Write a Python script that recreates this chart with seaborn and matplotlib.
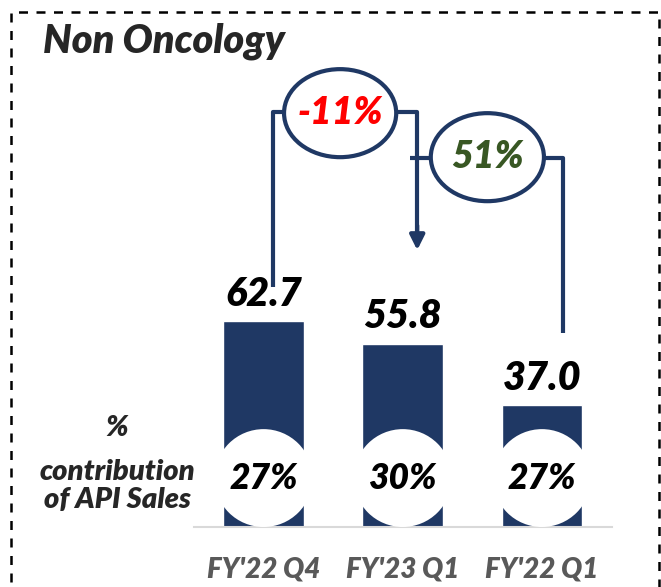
import matplotlib
matplotlib.use("Agg")
import matplotlib.pyplot as plt
import seaborn as sns
from matplotlib import font_manager as fm
from matplotlib.patches import Ellipse, Rectangle

# Data
quarters = ["FY'22 Q4", "FY'23 Q1", "FY'22 Q1"]
sales = [62.7, 55.8, 37.0]
api_share = ["27%", "30%", "27%"]
growth_labels = ["-11%", "51%"]
growth_colors = ["#FF0000", "#385723"]

navy = "#1F3864"
W, H = 661, 587

sns.set_theme(style="white")
plt.rcParams['font.family'] = ['Lato', 'DejaVu Sans']

# pick the heavy italic face by file, name matching alone picked a lighter one
font_path = fm.findfont(fm.FontProperties(family="Lato", style="italic", weight=800))


def fp(size):
    return fm.FontProperties(fname=font_path, size=size)


fig = plt.figure(figsize=(W / 100, H / 100), dpi=100)

# axes placed so the baseline sits at y=527px, bars span 194..612px
ax = fig.add_axes([194 / W, (H - 527) / H, (611.5 - 194) / W, (527 - 12) / H])
ax.patch.set_alpha(0)

sns.barplot(x=quarters, y=sales, order=quarters, color=navy, saturation=1,
            width=0.58, ax=ax, zorder=2)
ax.set_xlim(-0.5, 2.5)
ax.set_ylim(0, 156.8)
for s in ["left", "right", "top"]:
    ax.spines[s].set_visible(False)
ax.spines["bottom"].set_color("#D9D9D9")
ax.spines["bottom"].set_linewidth(1.5)
ax.set_yticks([])
ax.set_xlabel("")
ax.set_ylabel("")
ax.tick_params(axis="x", length=0, pad=21)
for lab in ax.get_xticklabels():
    lab.set_fontproperties(fp(20))
    lab.set_color("#595959")

# value labels and white circles with API share
for i, (v, p) in enumerate(zip(sales, api_share)):
    ax.annotate(f"{v:.1f}", (i, v), xytext=(0, 6), textcoords="offset points",
                ha="center", va="bottom", fontproperties=fp(28.5), color="black")
    ax.add_patch(Ellipse((i, 14.9), 0.705, 29.8, facecolor="white",
                         edgecolor="none", zorder=3))
    ax.text(i, 14.9, p, ha="center", va="center", fontproperties=fp(25.5),
            color="black", zorder=4)

# growth connectors
lw = 3
x0, x1 = 0.068, 1.104
y_top = 126.3
ax.plot([x0, x0, 0.16], [sales[0] + 10.4, y_top, y_top], color=navy, lw=lw,
        solid_capstyle="butt", clip_on=False, zorder=5)
ax.plot([0.95, x1, x1], [y_top, y_top, sales[1] + 34], color=navy, lw=lw,
        solid_capstyle="butt", clip_on=False, zorder=5)
ax.annotate("", xy=(x1, sales[1] + 28.5), xytext=(x1, sales[1] + 36),
            arrowprops=dict(arrowstyle="-|>", color=navy, lw=lw,
                            mutation_scale=22, shrinkA=0, shrinkB=0),
            zorder=5)
ax.add_patch(Ellipse((0.55, 126.0), 0.806, 26.8, facecolor="white",
                     edgecolor=navy, lw=lw, zorder=6, clip_on=False))
ax.text(0.55, 126.0, growth_labels[0], ha="center", va="center",
        fontproperties=fp(27), color=growth_colors[0], zorder=7)

y2 = 112.3
ax.plot([1.054, 1.25], [y2, y2], color=navy, lw=lw, solid_capstyle="butt",
        clip_on=False, zorder=5)
ax.plot([1.95, 2.155, 2.155], [y2, y2, sales[2] + 22], color=navy, lw=lw,
        solid_capstyle="butt", clip_on=False, zorder=5)
ax.add_patch(Ellipse((1.608, 112.6), 0.813, 26.8, facecolor="white",
                     edgecolor=navy, lw=lw, zorder=6, clip_on=False))
ax.text(1.608, 112.6, growth_labels[1], ha="center", va="center",
        fontproperties=fp(27), color=growth_colors[1], zorder=7)

# title and side label
fig.text(43 / W, 1 - 41 / H, "Non Oncology", ha="left", va="center",
         fontproperties=fp(28.5))
fig.text(117 / W, 1 - 428 / H, "%", ha="center", va="center",
         fontproperties=fp(21))
fig.text(117 / W, 1 - 486 / H, "contribution\nof API Sales", ha="center",
         va="center", fontproperties=fp(21), linespacing=1.05)

# dashed frame
fig.patches.append(Rectangle((11 / W, -0.05), (659 - 11) / W, 1.05 - 12 / H,
                             transform=fig.transFigure, fill=False,
                             edgecolor="black", lw=1.8,
                             linestyle=(0, (3.6, 3.4))))

fig.savefig("out.png", dpi=100)
